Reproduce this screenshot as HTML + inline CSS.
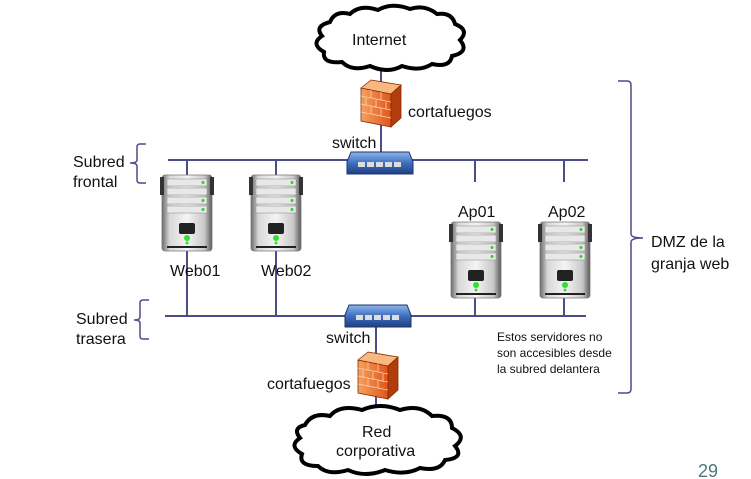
<!DOCTYPE html>
<html><head><meta charset="utf-8"><style>
html,body{margin:0;padding:0;background:#fff;}
svg{display:block;}
text{font-family:"Liberation Sans",Arial,sans-serif;fill:#111;}
</style></head><body>
<svg width="751" height="479" viewBox="0 0 751 479" xmlns="http://www.w3.org/2000/svg">
<defs>
<linearGradient id="srv" x1="0" x2="1">
<stop offset="0" stop-color="#6a6a6a"/><stop offset="0.15" stop-color="#d8d8d8"/><stop offset="0.5" stop-color="#f4f4f4"/><stop offset="0.85" stop-color="#c8c8c8"/><stop offset="1" stop-color="#5a5a5a"/>
</linearGradient>
<linearGradient id="sw" x1="0" y1="0" x2="0" y2="1">
<stop offset="0" stop-color="#8fb6e8"/><stop offset="0.5" stop-color="#3d6fc0"/><stop offset="1" stop-color="#1f3f80"/>
</linearGradient>
<linearGradient id="fwgrad" x1="0" x2="1">
<stop offset="0" stop-color="#f7a060"/><stop offset="1" stop-color="#e0561c"/>
</linearGradient>
<g id="server">
<rect x="0" y="0" width="50" height="76" rx="3" fill="url(#srv)" stroke="#777" stroke-width="0.8"/>
<rect x="-2" y="2" width="4" height="18" fill="#333"/><rect x="48" y="2" width="4" height="18" fill="#333"/>
<rect x="5" y="4" width="40" height="7" fill="#e8e8e8" stroke="#888" stroke-width="0.5"/>
<rect x="5" y="13" width="40" height="7" fill="#e8e8e8" stroke="#888" stroke-width="0.5"/>
<rect x="5" y="22" width="40" height="7" fill="#e8e8e8" stroke="#888" stroke-width="0.5"/>
<rect x="5" y="31" width="40" height="7" fill="#e8e8e8" stroke="#888" stroke-width="0.5"/>
<circle cx="41" cy="7.5" r="1.5" fill="#3c3"/><circle cx="41" cy="25.5" r="1.5" fill="#3c3"/><circle cx="41" cy="34.5" r="1.5" fill="#3c3"/>
<rect x="17" y="48" width="16" height="11" rx="2" fill="#222"/>
<circle cx="25" cy="63" r="3" fill="#3d3"/><circle cx="25" cy="68" r="1.5" fill="#3d3"/>
<rect x="5" y="71" width="40" height="2" fill="#222"/>
</g>
<g id="switch">
<path d="M4 0 H62 L66 10 V22 H0 V10 Z" fill="url(#sw)" stroke="#1a3570" stroke-width="1"/>
<rect x="11" y="10" width="7" height="5" fill="#ddd"/><rect x="20" y="10" width="7" height="5" fill="#ddd"/><rect x="29" y="10" width="7" height="5" fill="#ddd"/><rect x="38" y="10" width="7" height="5" fill="#ddd"/><rect x="47" y="10" width="7" height="5" fill="#ddd"/>
</g>
<g id="firewall">
<path d="M0 8 L30 14 V47 L0 41 Z" fill="url(#fwgrad)" stroke="#8a2a00" stroke-width="0.8"/>
<path d="M0 8 L10 0 L40 5 L30 14 Z" fill="#f9b880" stroke="#8a2a00" stroke-width="0.8"/>
<path d="M30 14 L40 5 V38 L30 47 Z" fill="#b23d0c" stroke="#8a2a00" stroke-width="0.8"/>
<path d="M0 16 L30 22 M0 24 L30 30 M0 32 L30 38 M10 10 V18 M20 12 V20 M5 18 V26 M15 20 V28 M25 22 V30 M10 26 V34 M20 28 V36" stroke="#fcd0a8" stroke-width="0.8" fill="none"/>
</g>
</defs>
<g stroke="#4b4c8a" stroke-width="2" fill="none">
<line x1="381" y1="68" x2="381" y2="160"/>
<line x1="168" y1="160" x2="588" y2="160"/>
<line x1="187" y1="160" x2="187" y2="316"/>
<line x1="276" y1="160" x2="276" y2="316"/>
<line x1="475" y1="160" x2="475" y2="182"/>
<line x1="564" y1="160" x2="564" y2="182"/>
<line x1="475" y1="295" x2="475" y2="316"/>
<line x1="564" y1="295" x2="564" y2="316"/>
<line x1="165" y1="316" x2="586" y2="316"/>
<line x1="376" y1="316" x2="376" y2="410"/>
<path d="M146 144 H140 Q137 144 137 147 V160 Q137 163 130 163 Q137 163 137 166 V180 Q137 183 140 183 H146" stroke-width="1.5"/>
<path d="M149 300 H143 Q140 300 140 303 V317 Q140 320 134 320 Q140 320 140 323 V336 Q140 339 143 339 H149" stroke-width="1.5"/>
<path d="M618 81 H627 Q631 81 631 85 V234 Q631 238 643 238 Q631 238 631 242 V389 Q631 393 627 393 H618" stroke-width="1.5"/>
</g>
<path d="M330 22 Q335 10 350 14 Q360 4 378 10 Q392 2 410 9 Q425 4 437 14 Q452 12 455 24 Q470 30 460 40 Q470 52 452 56 Q450 68 432 64 Q420 72 402 66 Q388 74 370 66 Q352 72 342 62 Q322 64 324 52 Q310 44 322 36 Q314 26 330 22 Z" fill="#fff" stroke="#000" stroke-width="4"/>
<text x="352" y="45" font-size="16">Internet</text>
<use href="#firewall" x="361" y="80"/>
<text x="408" y="117" font-size="16">cortafuegos</text>
<text x="332" y="148" font-size="16">switch</text>
<use href="#switch" x="347" y="152"/>
<use href="#server" x="162" y="175"/>
<use href="#server" x="251" y="175"/>
<use href="#server" x="451" y="222"/>
<use href="#server" x="540" y="222"/>
<text x="170" y="276" font-size="16">Web01</text>
<text x="261" y="276" font-size="16">Web02</text>
<text x="458" y="217" font-size="16">Ap01</text>
<text x="548" y="217" font-size="16">Ap02</text>
<use href="#switch" x="345" y="305"/>
<text x="326" y="343" font-size="16">switch</text>
<use href="#firewall" x="358" y="352"/>
<text x="267" y="389" font-size="16">cortafuegos</text>
<path d="M305 425 Q312 412 330 416 Q340 404 362 410 Q380 402 400 410 Q420 404 432 416 Q452 414 452 428 Q468 436 455 446 Q465 458 445 460 Q440 472 420 468 Q405 476 385 470 Q365 478 348 470 Q328 476 318 466 Q298 466 302 454 Q288 446 300 438 Q292 428 305 425 Z" fill="#fff" stroke="#000" stroke-width="4"/>
<text x="362" y="437" font-size="16">Red</text>
<text x="336" y="456" font-size="16">corporativa</text>
<text x="73" y="167" font-size="16">Subred</text>
<text x="73" y="187" font-size="16">frontal</text>
<text x="76" y="324" font-size="16">Subred</text>
<text x="76" y="344" font-size="16">trasera</text>
<text x="497" y="341" font-size="12">Estos servidores no</text>
<text x="497" y="357" font-size="12">son accesibles desde</text>
<text x="497" y="373" font-size="12">la subred delantera</text>
<text x="651" y="247" font-size="16">DMZ de la</text>
<text x="651" y="269" font-size="16">granja web</text>
<text x="698" y="477" font-size="18" style="fill:#4a7a80">29</text>
</svg>
</body></html>
